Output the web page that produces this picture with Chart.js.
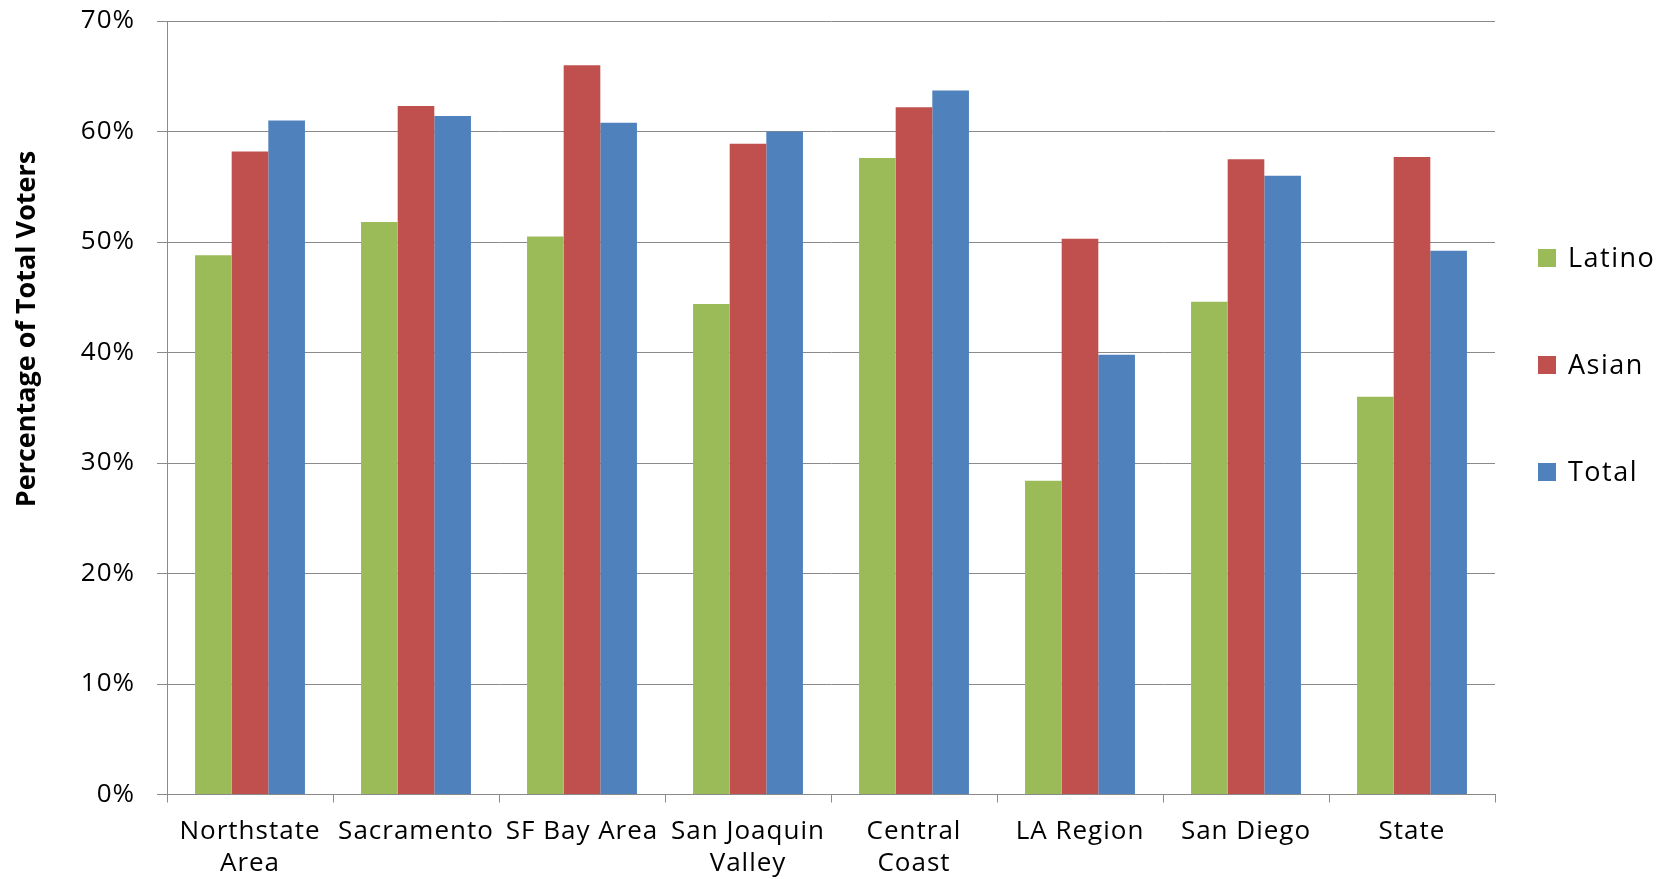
<!DOCTYPE html>
<html>
<head>
<meta charset="utf-8">
<title>Percentage of Total Voters by Region</title>
<script src="https://cdn.jsdelivr.net/npm/chart.js@4.4.1/dist/chart.umd.min.js"></script>
<style>
  html, body { margin: 0; padding: 0; background: #fff; }
  #wrap { width: 1675px; height: 879px; position: relative; }
</style>
</head>
<body>
<div id="wrap"><canvas id="votersChart"></canvas></div>
<script>
// Data
const categories = [['Northstate', 'Area'], 'Sacramento', 'SF Bay Area', ['San Joaquin', 'Valley'], ['Central', 'Coast'], 'LA Region', 'San Diego', 'State'];
const seriesNames = ['Latino', 'Asian', 'Total'];
const latinoValues = [48.8, 51.8, 50.5, 44.4, 57.6, 28.4, 44.6, 36.0];
const asianValues = [58.2, 62.3, 66.0, 58.9, 62.2, 50.3, 57.5, 57.7];
const totalValues = [61.0, 61.4, 60.8, 60.0, 63.7, 39.8, 56.0, 49.2];
const yTickMax = 70;
const yTickStep = 10;
const yTitle = 'Percentage of Total Voters';

const seriesColors = ['#9BBB59', '#C0504D', '#4F81BD'];
const fontFamily = "'Open Sans', sans-serif";
const textColor = '#000';
const lineColor = '#8a8a8a';

// canvas letter spacing, so the text gets as wide as in the picture
const spacingPlugin = {
  id: 'spacing',
  beforeUpdate(chart) { chart.ctx.letterSpacing = '1px'; },
  beforeDraw(chart) { chart.ctx.letterSpacing = '1px'; }
};

// rotated axis title, sits a bit above the middle of the axis like the original
const axisTitlePlugin = {
  id: 'axisTitle',
  afterDraw(chart) {
    const ctx = chart.ctx;
    ctx.save();
    ctx.letterSpacing = '0px';
    ctx.translate(35, 329);
    ctx.rotate(-Math.PI / 2);
    ctx.font = 'bold 27px ' + fontFamily;
    ctx.fillStyle = '#000';
    ctx.textAlign = 'center';
    ctx.textBaseline = 'alphabetic';
    ctx.fillText(yTitle, 0, 0);
    ctx.restore();
  }
};

// legend on the right, spaced out like the Excel one
const sideLegendPlugin = {
  id: 'sideLegend',
  afterDraw(chart) {
    const ctx = chart.ctx;
    ctx.save();
    ctx.letterSpacing = '1.5px';
    ctx.font = '27px ' + fontFamily;
    ctx.textBaseline = 'middle';
    ctx.textAlign = 'left';
    chart.data.datasets.forEach(function (ds, i) {
      const cy = 258 + i * 107;
      ctx.fillStyle = ds.backgroundColor;
      ctx.fillRect(1538, cy - 9, 18, 18);
      ctx.fillStyle = '#000';
      ctx.fillText(ds.label, 1568, cy + 1);
    });
    ctx.restore();
  }
};

const ctx = document.getElementById('votersChart').getContext('2d');
const votersChart = new Chart(ctx, {
  type: 'bar',
  data: {
    labels: categories,
    datasets: [
      { label: seriesNames[0], data: latinoValues, backgroundColor: seriesColors[0] },
      { label: seriesNames[1], data: asianValues, backgroundColor: seriesColors[1] },
      { label: seriesNames[2], data: totalValues, backgroundColor: seriesColors[2] }
    ]
  },
  options: {
    responsive: true,
    maintainAspectRatio: false,
    animation: false,
    layout: {
      padding: { top: 21, right: 180, bottom: 0, left: 0 }
    },
    datasets: {
      bar: {
        categoryPercentage: 0.662,
        barPercentage: 1.0,
        borderWidth: 0
      }
    },
    scales: {
      x: {
        offset: true,
        grid: {
          offset: true,
          drawOnChartArea: false,
          drawTicks: true,
          tickLength: 8,
          color: lineColor
        },
        border: { color: lineColor },
        ticks: {
          color: textColor,
          padding: 13,
          maxRotation: 0,
          autoSkip: false,
          font: { family: fontFamily, size: 26, lineHeight: 1.23 }
        },
        afterFit(scale) {
          scale.height = 84.5;
          scale.paddingLeft = 0;
          scale.paddingRight = 0;
        }
      },
      y: {
        min: 0,
        max: yTickMax,
        grid: {
          color: lineColor,
          tickLength: 10
        },
        border: { color: lineColor },
        ticks: {
          stepSize: yTickStep,
          color: textColor,
          padding: 22,
          font: { family: fontFamily, size: 26 },
          callback: function (v) { return v + '%'; }
        },
        afterFit(scale) {
          scale.width = 167;
          scale.paddingTop = 0;
          scale.paddingBottom = 0;
        }
      }
    },
    plugins: {
      legend: { display: false },
      tooltip: { enabled: false }
    }
  },
  plugins: [spacingPlugin, axisTitlePlugin, sideLegendPlugin]
});
</script>
</body>
</html>
